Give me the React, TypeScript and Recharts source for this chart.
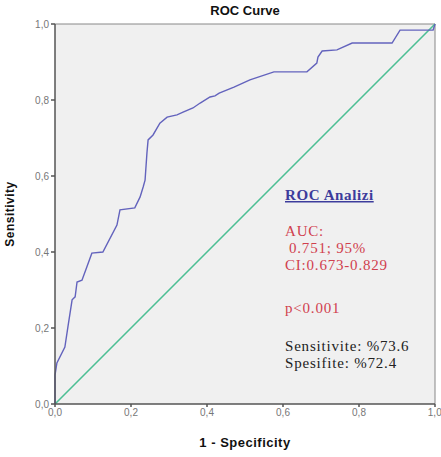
import React from 'react';
import { LineChart, Line, XAxis, YAxis, CartesianGrid, ReferenceLine, Customized } from 'recharts';

const fpr = [0, 0, 0.005, 0.026, 0.034, 0.045, 0.053, 0.058, 0.071, 0.084, 0.097, 0.126, 0.163, 0.171, 0.21, 0.224, 0.232, 0.237, 0.242, 0.245, 0.258, 0.276, 0.295, 0.321, 0.337, 0.363, 0.382, 0.408, 0.421, 0.432, 0.471, 0.513, 0.576, 0.663, 0.689, 0.692, 0.703, 0.742, 0.782, 0.887, 0.908, 0.995, 1];
const tpr = [0, 0.076, 0.108, 0.15, 0.203, 0.274, 0.282, 0.321, 0.326, 0.361, 0.397, 0.4, 0.471, 0.511, 0.516, 0.545, 0.571, 0.589, 0.661, 0.695, 0.708, 0.739, 0.755, 0.761, 0.768, 0.779, 0.792, 0.808, 0.811, 0.818, 0.834, 0.853, 0.874, 0.874, 0.897, 0.913, 0.929, 0.932, 0.95, 0.95, 0.984, 0.984, 1];
const diagX = [0, 1];
const diagY = [0, 1];
const axisTicks = [0, 0.2, 0.4, 0.6, 0.8, 1];

const rocData = fpr.map((x, i) => ({ x, y: tpr[i] }));
const diagData = diagX.map((x, i) => ({ x, d: diagY[i] }));

const fmt = (v: number) => v.toFixed(1).replace('.', ',');

const Notes = () => (
  <g fontFamily="'Liberation Serif', 'Times New Roman', serif">
    <text x={285} y={200} fontSize={15} fontWeight="bold" fill="#3c3c9c" letterSpacing={0.6} textDecoration="underline">ROC Analizi</text>
    <text x={285} y={236} fontSize={15} fill="#d0404e" letterSpacing={0.8}>AUC:</text>
    <text x={289} y={253} fontSize={15} fill="#d0404e" letterSpacing={0.8}>0.751; 95%</text>
    <text x={285} y={270} fontSize={15} fill="#d0404e" letterSpacing={0.8}>CI:0.673-0.829</text>
    <text x={285} y={313} fontSize={15} fill="#d0404e" letterSpacing={0.8}>p&lt;0.001</text>
    <text x={285} y={351} fontSize={15} fill="#222" letterSpacing={0.8}>Sensitivite: %73.6</text>
    <text x={285} y={368} fontSize={15} fill="#222" letterSpacing={0.8}>Spesifite: %72.4</text>
    <text x={245} y={15} fontSize={13} fontWeight="bold" fill="#111" textAnchor="middle" fontFamily="Arial, 'Liberation Sans', sans-serif">ROC Curve</text>
  </g>
);

export default function App() {
  return (
    <div style={{ position: 'absolute', left: 0, top: 0, background: '#fff' }}>
      <LineChart width={441} height={457} margin={{ top: 24, right: 6, bottom: 0, left: 0 }}>
        <CartesianGrid horizontal={false} vertical={false} fill="#f0f0f0" />
        <XAxis
          dataKey="x"
          type="number"
          domain={[0, 1]}
          ticks={axisTicks}
          tickFormatter={fmt}
          height={53}
          allowDuplicatedCategory={false}
          stroke="#555"
          strokeWidth={1.5}
          tickSize={3}
          tick={{ fontSize: 10, fill: '#777', fontFamily: 'Arial, sans-serif' }}
          label={{ value: '1 - Specificity', position: 'insideBottom', offset: 10, style: { fontSize: 13, fontWeight: 'bold', fill: '#111', fontFamily: 'Arial, sans-serif', letterSpacing: 0.5 } }}
        />
        <YAxis
          type="number"
          domain={[0, 1]}
          ticks={axisTicks}
          tickFormatter={fmt}
          width={55}
          stroke="#555"
          strokeWidth={1.5}
          tickSize={4}
          tick={{ fontSize: 10, fill: '#777', fontFamily: 'Arial, sans-serif' }}
          label={{ value: 'Sensitivity', angle: -90, position: 'insideLeft', offset: 10, style: { textAnchor: 'middle', fontSize: 12, fontWeight: 'bold', fill: '#111', fontFamily: 'Arial, sans-serif', letterSpacing: 0.5 } }}
        />
        <ReferenceLine y={1} stroke="#888" strokeWidth={1} />
        <ReferenceLine x={1} stroke="#888" strokeWidth={1} />
        <Line data={diagData} dataKey="d" stroke="#4cbf94" strokeWidth={1.6} dot={false} isAnimationActive={false} />
        <Line data={rocData} dataKey="y" stroke="#6363bd" strokeWidth={1.4} dot={false} isAnimationActive={false} />
        <Customized component={Notes} />
      </LineChart>
    </div>
  );
}
